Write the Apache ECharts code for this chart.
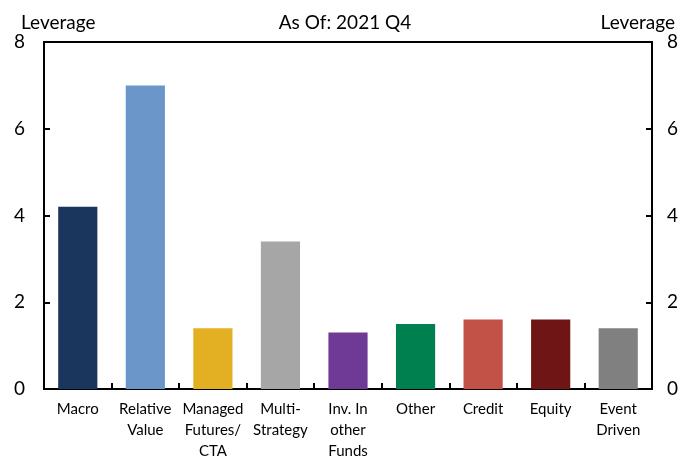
<!DOCTYPE html>
<html>
<head>
<meta charset="utf-8">
<script src="https://cdn.jsdelivr.net/npm/echarts@6/dist/echarts.min.js"></script>
<style>
  html, body { margin: 0; padding: 0; background: #fff; }
  #chart { width: 690px; height: 462px; }
</style>
</head>
<body>
<div id="chart"></div>
<script>
// Hedge fund leverage by strategy
const categories = ['Macro', 'Relative\nValue', 'Managed\nFutures/\nCTA', 'Multi-\nStrategy',
  'Inv. In\nother\nFunds', 'Other', 'Credit', 'Equity', 'Event\nDriven'];
const leverage = [4.2, 7.0, 1.4, 3.4, 1.3, 1.5, 1.6, 1.6, 1.4];
const barColors = ['#1a365d', '#6a96c9', '#e3b024', '#a6a6a6', '#6e3a96',
  '#007f4f', '#c25148', '#701515', '#808080'];
const yTicks = [0, 2, 4, 6, 8];

const FONT = 'Lato, "Roboto", sans-serif';
const chart = echarts.init(document.getElementById('chart'), null, { renderer: 'canvas' });

function valueAxis(position, margin) {
  return {
    type: 'value',
    position: position,
    min: yTicks[0],
    max: yTicks[yTicks.length - 1],
    interval: yTicks[1] - yTicks[0],
    axisLine: { show: true, lineStyle: { color: '#000', width: 2 } },
    axisTick: { show: true, inside: true, length: 6, lineStyle: { color: '#000', width: 2 } },
    splitLine: { show: false },
    axisLabel: { color: '#000', fontSize: 19, fontFamily: FONT, margin: margin }
  };
}

const headStyle = { fontSize: 19, fontWeight: 'normal', color: '#000', fontFamily: FONT };

chart.setOption({
  animation: false,
  backgroundColor: '#fff',
  grid: { left: 44, right: 38, top: 42, bottom: 69, show: true, borderColor: '#000', borderWidth: 2 },
  title: [
    { text: 'Leverage', left: 16, top: 8, textStyle: headStyle },
    { text: 'As Of: 2021 Q4', left: 'center', top: 8, textStyle: headStyle },
    { text: 'Leverage', right: 10, top: 8, textStyle: headStyle }
  ],
  xAxis: {
    type: 'category',
    data: categories,
    axisLine: { show: true, lineStyle: { color: '#000', width: 2 } },
    axisTick: { show: true, inside: true, length: 6, alignWithLabel: false, lineStyle: { color: '#000', width: 2 } },
    axisLabel: { color: '#000', fontSize: 15, fontFamily: FONT, lineHeight: 21, margin: 10, interval: 0 }
  },
  yAxis: [valueAxis('left', 19), valueAxis('right', 15)],
  series: [{
    type: 'bar',
    data: leverage.map((v, i) => ({ value: v, itemStyle: { color: barColors[i] } })),
    barWidth: '58%'
  }]
});
</script>
</body>
</html>
